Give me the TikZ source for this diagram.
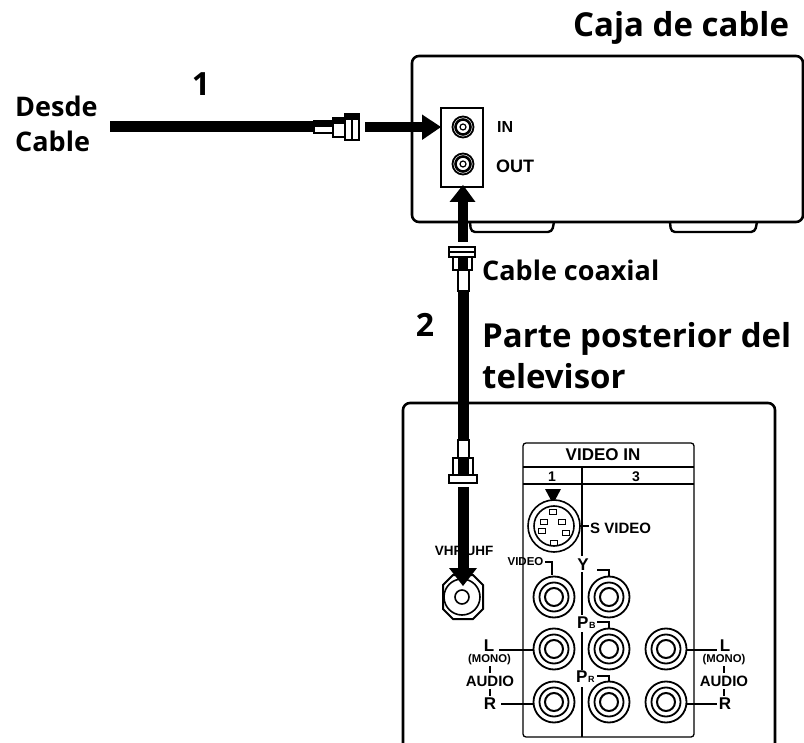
\documentclass[tikz,border=0pt]{standalone}
\usepackage{fontspec}
\setmainfont{Open Sans}
\newfontfamily\smallfont{Liberation Sans}
\usetikzlibrary{calc}
\tikzset{
  heading/.style={font=\fontsize{33}{41}\selectfont\bfseries, align=left, inner sep=0pt},
  stepnum/.style={font=\fontsize{32}{34}\selectfont\bfseries, inner sep=0pt},
  sublabel/.style={font=\fontsize{27}{35}\selectfont\bfseries, align=left, inner sep=0pt},
  tinyb/.style={font=\smallfont\fontsize{17}{17}\selectfont\bfseries, inner sep=0pt},
  panelb/.style={font=\smallfont\fontsize{15}{15}\selectfont\bfseries, inner sep=0pt},
  micro/.style={font=\smallfont\fontsize{11.3}{11}\selectfont\bfseries, inner sep=0pt},
  casing/.style={draw=black, line width=2.6pt, rounded corners=7pt},
  thin line/.style={draw=black, line width=1.3pt},
  fat/.style={draw=black, line width=11pt},
  conn/.style={draw=black, fill=white, line width=1.6pt},
  connb/.style={draw=black, fill=black, line width=1pt}
}
\newcommand{\rca}[1]{%
  \draw[line width=1.8pt,fill=white] (#1) circle (20.5);
  \draw[line width=1.8pt] (#1) circle (14.5);
  \draw[line width=2pt] (#1) circle (9);
}
\begin{document}
\begin{tikzpicture}[x=1pt,y=-1pt]
\useasboundingbox (0,0) rectangle (804,743);
\clip (0,0) rectangle (804,743);
% Cable box
\draw[casing] (412,56) rectangle (803,222);
\draw[line width=2.4pt,rounded corners=4pt] (470,222) -- (471,232) -- (552,232) -- (554,222);
\draw[line width=2.4pt,rounded corners=4pt] (670,222) -- (671,232) -- (755,232) -- (757,222);
% Port panel
\node[draw=black,line width=1.3pt,fill=white,minimum width=42pt,minimum height=79pt,inner sep=0pt] (panel) at (462,147.5) {};
\coordinate (jin) at (463,127);
\coordinate (jout) at (463,164);
\foreach \j in {jin,jout}{
  \draw[line width=1.8pt,fill=white] (\j) circle (10.5);
  \draw[line width=2.6pt] (\j) circle (7.5);
  \draw[line width=1.2pt] (\j) circle (3);
}
\node[font=\smallfont\fontsize{16}{16}\selectfont\bfseries,inner sep=0pt,anchor=base west] (in) at (497,133) {IN};
\node[font=\smallfont\fontsize{18}{18}\selectfont\bfseries,inner sep=0pt,anchor=base west] (out) at (496,173) {OUT};
% Headings
\node[heading,anchor=base west] (caja) at (573,37) {Caja de cable};
\node[sublabel,anchor=west] (desde) at (15,124) {Desde\\Cable};
\node[stepnum] (one) at (201,84) {1};
\node[stepnum] (two) at (425,325) {2};
\node[sublabel,anchor=base west] (coax) at (482,281) {Cable coaxial};
\node[heading,anchor=west] (parte) at (482,356) {Parte posterior del\\televisor};
% Cable 1
\coordinate (c1a) at (110,126.5);
\coordinate (c1b) at (315,126.5);
\draw[fat] (c1a) -- (c1b);
\draw[conn] (314,121) rectangle (333,133);
\fill[black] (314,121) rectangle (333,127);
\draw[conn] (333,118) rectangle (345,137);
\fill[black] (333,118) rectangle (345,124);
\draw[conn] (345,114) rectangle (359,140);
\draw[line width=1.4pt] (352,114) -- (352,140);
\fill[black] (345,114) rectangle (359,120);
\coordinate (a1a) at (365,127);
\coordinate (a1b) at (423,127);
\draw[line width=10pt] (a1a) -- (a1b);
\fill[black] (441,127) -- (422,114.5) -- (422,140) -- cycle;
% Arrow up to OUT
\coordinate (a2a) at (463,242);
\coordinate (a2b) at (463,200);
\draw[line width=10pt] (a2a) -- (a2b);
\fill[black] (463,185) -- (449.5,202) -- (475.5,202) -- cycle;
% Cable 2 upper connector
\draw[conn] (449,247) rectangle (475,257);
\draw[line width=1.4pt] (449,252) -- (475,252);
\draw[conn] (453,257) rectangle (472,270);
\draw[connb] (458,257) rectangle (467,270);
\draw[conn] (458,270) rectangle (469,291);
% Cable 2 shaft
\coordinate (c2a) at (463,291);
\coordinate (c2b) at (463,440);
% TV casing
\draw[casing] (403,760) -- (403,403) -- (775,403) -- (775,760);
\draw[fat] (c2a) -- (c2b);
% Lower connector
\draw[conn] (458,440) rectangle (469,458);
\draw[conn] (453,458) rectangle (473,475);
\draw[connb] (458,458) rectangle (468,475);
\draw[conn] (449,475) rectangle (477,483);
% VHF
\node[font=\smallfont\fontsize{13.5}{13}\selectfont\bfseries,inner sep=0pt] (vhf) at (464,551) {VHF/UHF};
\coordinate (vj) at (462,597);
\draw[line width=2pt,fill=white] (443,585) -- (453,575) -- (473,575) -- (483,585) -- (483,609) -- (473,619) -- (453,619) -- (443,609) -- cycle;
\draw[line width=1.6pt] (vj) circle (18);
\draw[line width=1.6pt] (vj) circle (7);
\draw[line width=11pt] (463,487) -- (463,570);
\fill[black] (463,586) -- (449,568) -- (477,568) -- cycle;
% Video panel
\draw[thin line,rounded corners=3pt] (523,737) -- (523,443) -- (694,443) -- (694,737) -- cycle;
\draw[thin line] (523,467) -- (694,467) (523,484) -- (694,484);
\draw[thin line] (582,467) -- (582,556) (582,572) -- (582,615) (582,632) -- (582,670) (582,687) -- (582,737);
\node[font=\smallfont\fontsize{17}{17}\selectfont\bfseries,inner sep=0pt] (vin) at (603,455) {VIDEO IN};
\node[font=\smallfont\fontsize{14}{14}\selectfont\bfseries,inner sep=0pt] (n1) at (552,476.5) {1};
\node[font=\smallfont\fontsize{14}{14}\selectfont\bfseries,inner sep=0pt] (n3) at (636,476.5) {3};
\fill[black] (553,504) -- (545,489) -- (561,489) -- cycle;
% S-video
\coordinate (sv) at (554,526);
\draw[line width=1.6pt,fill=white] (sv) circle (26);
\draw[line width=1.6pt] (sv) circle (20);
\foreach \dx/\dy in {-1/-14,-10/-4,8/-4,-12/5,12/7,0/17}{
  \draw[line width=1.2pt] ($(sv)+(\dx-3.5,\dy-2.5)$) rectangle ($(sv)+(\dx+3.5,\dy+2.5)$);
}
\draw[thin line] (580,526) -- (589,526);
\node[panelb,anchor=west] (svt) at (590,528) {S VIDEO};
% RCA jacks
\rca{554,597}
\rca{609,597}
\rca{554,649}
\rca{609,649}
\rca{666,649}
\rca{554,702}
\rca{609,702}
\rca{666,702}
% labels
\node[font=\smallfont\fontsize{11.5}{11}\selectfont\bfseries,inner sep=0pt] (vid) at (525.5,562) {VIDEO};
\draw[thin line] (545,562) -- (552,562) -- (552,575);
\node[tinyb] (y) at (583,565) {Y};
\draw[thin line] (597,570) -- (609,570) -- (609,576);
\node[tinyb,anchor=west] (pb) at (577,623) {P\kern0.5pt{\fontsize{9}{9}\selectfont B}};
\draw[thin line] (597,622) -- (609,622) -- (609,628.5);
\node[tinyb,anchor=west] (pr) at (576,677) {P\kern0.5pt{\fontsize{9}{9}\selectfont R}};
\draw[thin line] (597,676) -- (609,676) -- (609,681.5);
% left audio
\node[tinyb] (ll) at (489,646) {L};
\node[micro] (lm) at (489.5,660) {(MONO)};
\node[panelb] (la) at (490,681) {AUDIO};
\node[tinyb] (lr) at (490,704) {R};
\draw[thin line] (499,650) -- (534,650) (501,704) -- (534,704);
\draw[thin line] (490,666) -- (490,673) (490,689) -- (490,696);
% right audio
\node[tinyb] (rl) at (725,646) {L};
\node[micro] (rm) at (724,660) {(MONO)};
\node[panelb] (ra) at (724,681) {AUDIO};
\node[tinyb] (rr) at (725,704) {R};
\draw[thin line] (686,650) -- (717,650) (686,704) -- (717,704);
\draw[thin line] (724,666) -- (724,673) (724,689) -- (724,696);
\end{tikzpicture}
\end{document}
